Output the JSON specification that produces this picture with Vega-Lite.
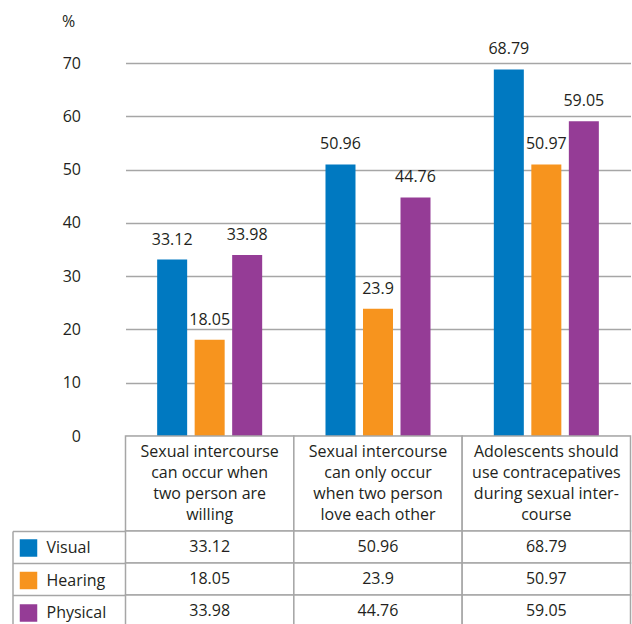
{
  "$schema": "https://vega.github.io/schema/vega-lite/v6.json",
  "padding": {"left": 11.5, "top": 13, "right": 0, "bottom": 0},
  "config": {
    "font": "Open Sans",
    "view": {"stroke": null},
    "text": {"color": "#231f20", "fontSize": 16}
  },
  "datasets": {
    "scores": [
      {"statement": "Sexual intercourse can occur when two person are willing", "group": "Visual", "percent": 33.12},
      {"statement": "Sexual intercourse can occur when two person are willing", "group": "Hearing", "percent": 18.05},
      {"statement": "Sexual intercourse can occur when two person are willing", "group": "Physical", "percent": 33.98},
      {"statement": "Sexual intercourse can only occur when two person love each other", "group": "Visual", "percent": 50.96},
      {"statement": "Sexual intercourse can only occur when two person love each other", "group": "Hearing", "percent": 23.9},
      {"statement": "Sexual intercourse can only occur when two person love each other", "group": "Physical", "percent": 44.76},
      {"statement": "Adolescents should use contracepatives during sexual intercourse", "group": "Visual", "percent": 68.79},
      {"statement": "Adolescents should use contracepatives during sexual intercourse", "group": "Hearing", "percent": 50.97},
      {"statement": "Adolescents should use contracepatives during sexual intercourse", "group": "Physical", "percent": 59.05}
    ],
    "statements": [
      {"statement": "Sexual intercourse can occur when two person are willing", "lines": "Sexual intercourse\ncan occur when\ntwo person are\nwilling"},
      {"statement": "Sexual intercourse can only occur when two person love each other", "lines": "Sexual intercourse\ncan only occur\nwhen two person\nlove each other"},
      {"statement": "Adolescents should use contracepatives during sexual intercourse", "lines": "Adolescents should\nuse contracepatives\nduring sexual inter-\ncourse"}
    ]
  },
  "spacing": 0,
  "bounds": "flush",
  "vconcat": [
    {
      "width": 505,
      "height": 373,
      "data": {"name": "scores"},
      "encoding": {
        "x": {
          "field": "statement", "type": "nominal",
          "sort": [
            "Sexual intercourse can occur when two person are willing",
            "Sexual intercourse can only occur when two person love each other",
            "Adolescents should use contracepatives during sexual intercourse"
          ],
          "scale": {"paddingInner": 0, "paddingOuter": 0},
          "axis": null
        },
        "xOffset": {
          "field": "group", "type": "nominal",
          "sort": ["Visual", "Hearing", "Physical"],
          "scale": {"paddingInner": 0.2, "paddingOuter": 0.844}
        },
        "y": {
          "field": "percent", "type": "quantitative",
          "scale": {"domain": [0, 70], "nice": false},
          "axis": {
            "values": [0, 10, 20, 30, 40, 50, 60, 70],
            "grid": true, "gridColor": "#a6a6a6", "gridWidth": 1.5,
            "domain": false, "ticks": false,
            "labelPadding": 45, "labelFontSize": 16, "labelColor": "#231f20",
            "title": "%", "titleAngle": 0, "titleX": -64, "titleY": -42,
            "titleAlign": "left", "titleBaseline": "middle",
            "titleFontSize": 16, "titleFontWeight": "normal", "titleColor": "#231f20"
          }
        }
      },
      "layer": [
        {
          "mark": {"type": "bar"},
          "encoding": {
            "color": {
              "field": "group", "type": "nominal",
              "scale": {"domain": ["Visual", "Hearing", "Physical"], "range": ["#0079c1", "#f7941e", "#953c96"]},
              "legend": {
                "orient": "none", "legendX": -106, "legendY": 476,
                "title": null, "direction": "vertical",
                "symbolType": "square", "symbolSize": 306, "symbolStrokeWidth": 0, "symbolOpacity": 1,
                "labelFontSize": 16, "labelColor": "#231f20", "labelOffset": 9,
                "rowPadding": 14.5, "padding": 0
              }
            }
          }
        },
        {
          "mark": {"type": "text", "baseline": "middle", "dy": -20},
          "encoding": {"text": {"field": "percent", "type": "nominal"}}
        }
      ]
    },
    {
      "width": 505,
      "height": 95,
      "data": {"name": "statements"},
      "encoding": {
        "x": {
          "field": "statement", "type": "nominal",
          "sort": [
            "Sexual intercourse can occur when two person are willing",
            "Sexual intercourse can only occur when two person love each other",
            "Adolescents should use contracepatives during sexual intercourse"
          ],
          "scale": {"paddingInner": 0, "paddingOuter": 0},
          "axis": null
        }
      },
      "layer": [
        {"mark": {"type": "rect", "fill": "white", "stroke": "#a6a6a6", "strokeWidth": 1.5}},
        {
          "mark": {"type": "text", "lineBreak": "\n", "lineHeight": 21.3, "baseline": "middle", "dy": -32},
          "encoding": {"text": {"field": "lines", "type": "nominal"}}
        }
      ]
    },
    {
      "width": 505,
      "height": 96,
      "data": {"name": "scores"},
      "encoding": {
        "x": {
          "field": "statement", "type": "nominal",
          "sort": [
            "Sexual intercourse can occur when two person are willing",
            "Sexual intercourse can only occur when two person love each other",
            "Adolescents should use contracepatives during sexual intercourse"
          ],
          "scale": {"paddingInner": 0, "paddingOuter": 0},
          "axis": null
        },
        "y": {
          "field": "group", "type": "nominal",
          "sort": ["Visual", "Hearing", "Physical"],
          "scale": {"paddingInner": 0, "paddingOuter": 0},
          "axis": {
            "orient": "left", "offset": 113, "title": null, "labels": false,
            "ticks": true, "tickSize": -113, "bandPosition": 0,
            "tickColor": "#a6a6a6", "tickWidth": 1.5,
            "domain": true, "domainColor": "#a6a6a6", "domainWidth": 1.5,
            "grid": false
          }
        }
      },
      "layer": [
        {"mark": {"type": "rect", "fill": "white", "stroke": "#a6a6a6", "strokeWidth": 1.5}},
        {
          "mark": {"type": "text", "baseline": "middle"},
          "encoding": {"text": {"field": "percent", "type": "nominal"}}
        }
      ]
    }
  ]
}
